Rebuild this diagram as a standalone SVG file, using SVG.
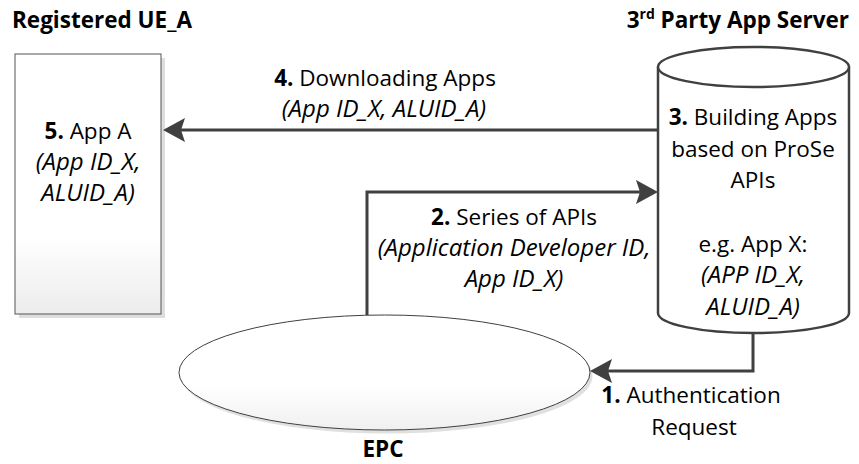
<svg xmlns="http://www.w3.org/2000/svg" width="859" height="464" viewBox="0 0 859 464">
<defs>
<linearGradient id="gRect" x1="0" y1="0" x2="0" y2="1">
<stop offset="0" stop-color="#ffffff"/><stop offset="0.7" stop-color="#ffffff"/><stop offset="1" stop-color="#ececec"/>
</linearGradient>
<linearGradient id="gEll" x1="0" y1="0" x2="0" y2="1">
<stop offset="0" stop-color="#ffffff"/><stop offset="0.6" stop-color="#ffffff"/><stop offset="1" stop-color="#f0f0f0"/>
</linearGradient>
<marker id="arr" viewBox="0 0 22 24" markerWidth="22" markerHeight="24" refX="10" refY="12" orient="auto" markerUnits="userSpaceOnUse">
<path d="M0,0 L22,12 L0,24 L4,12 Z" fill="#404040"/>
</marker>
</defs>
<style>
text{font-family:"Open Sans","Liberation Sans",sans-serif;font-size:22.5px;fill:#000}
.b{font-weight:bold}
.i{font-style:italic;font-size:24px}
.c{text-anchor:middle}
.conn{fill:none;stroke:#404040;stroke-width:3;marker-end:url(#arr)}
.cyl{fill:#fff;stroke:#404040;stroke-width:2.5}
</style>
<g id="ue">
<text class="b" x="12" y="28">Registered UE_A</text>
<rect x="19" y="58" width="146" height="260" fill="#dedede"/>
<rect x="15" y="54" width="146" height="260" fill="url(#gRect)" stroke="#555" stroke-width="1"/>
<text class="c" x="88" y="139"><tspan class="b">5.</tspan> App A</text>
<text class="c i" x="88" y="170">(App ID_X,</text>
<text class="c i" x="88" y="201">ALUID_A)</text>
</g>
<g id="server">
<text class="b" x="849" y="28" text-anchor="end">3<tspan font-size="14" dy="-9">rd</tspan><tspan dy="9"> Party App Server</tspan></text>
<path class="cyl" d="M658,67 V313 A95.5,20 0 0 0 849,313 V67"/>
<ellipse class="cyl" cx="753.5" cy="67" rx="95.5" ry="20"/>
<text class="c" x="753" y="125"><tspan class="b">3.</tspan> Building Apps</text>
<text class="c" x="753" y="156.5">based on ProSe</text>
<text class="c" x="753" y="188">APIs</text>
<text class="c" x="753" y="251.5">e.g. App X:</text>
<text class="c i" x="753" y="283">(APP ID_X,</text>
<text class="c i" x="753" y="315">ALUID_A)</text>
</g>
<g id="epc">
<ellipse cx="387" cy="376" rx="205.5" ry="57.5" fill="#e0e0e0"/>
<ellipse cx="384.5" cy="372.5" rx="205.5" ry="57.5" fill="url(#gEll)" stroke="#404040" stroke-width="1"/>
<text class="c b" x="383" y="457">EPC</text>
</g>
<g id="connectors">
<path class="conn" d="M658,130 H175"/>
<path class="conn" d="M367,315 V192 H646"/>
<path class="conn" d="M753,333 V371 H602"/>
</g>
<g id="labels">
<text class="c" x="385" y="86"><tspan class="b">4.</tspan> Downloading Apps</text>
<text class="c i" x="384" y="117">(App ID_X, ALUID_A)</text>
<text class="c" x="514" y="225"><tspan class="b">2.</tspan> Series of APIs</text>
<text class="c i" x="514" y="256">(Application Developer ID,</text>
<text class="c i" x="514" y="287">App ID_X)</text>
<text class="c" x="691" y="403"><tspan class="b">1.</tspan> Authentication</text>
<text class="c" x="694" y="435">Request</text>
</g>
</svg>
